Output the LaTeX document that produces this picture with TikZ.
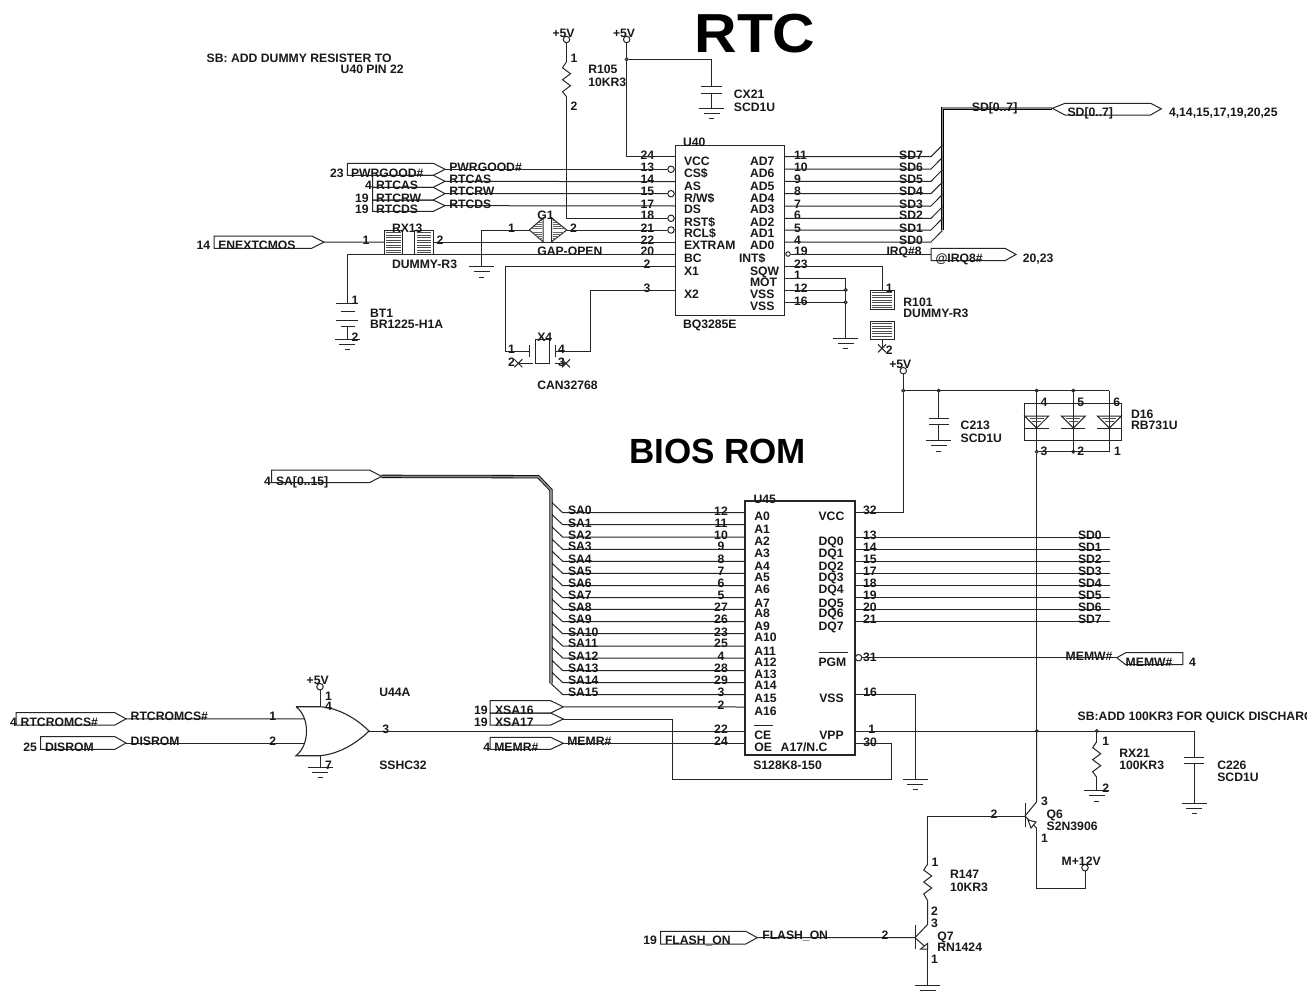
\documentclass[tikz,border=0pt]{standalone}
\usepackage{fontspec}
\usepackage{graphicx}
\setmainfont{Liberation Sans}
\newcounter{tn}
\tikzset{
  wire/.style={line width=1pt,draw=black!85},
  bus/.style={line width=.8pt,draw=black,double=black!45,double distance=1.7pt},
  lbl/.style={inner sep=0pt,outer sep=0pt,font=\bfseries\fontsize{12.2}{13}\selectfont,text=black!90,text height=8.8pt,text depth=0pt},
  ring/.style={circle,draw=black!85,line width=1pt,fill=white,inner sep=0pt,minimum size=6.5pt},
  jdot/.style={circle,draw=black!85,line width=.8pt,fill=black!60,inner sep=0pt,minimum size=3.2pt},
  chip/.style={rectangle,draw=black!85,line width=1.1pt,inner sep=0pt},
}
\newcommand{\T}[3]{\stepcounter{tn}\node[lbl,anchor=west] (t\arabic{tn}) at (#1,#2) {#3};}
\newcommand{\C}[3]{\stepcounter{tn}\node[lbl,anchor=center] (t\arabic{tn}) at (#1,#2) {#3};}
% ground: name, x, y
\newcommand{\gnd}[3]{\coordinate (#1) at (#2,#3);
  \draw[wire] ([xshift=-12.5pt]#1) -- ([xshift=12.5pt]#1);
  \draw[wire] ([xshift=-8pt,yshift=-5pt]#1) -- ([xshift=8pt,yshift=-5pt]#1);
  \draw[wire] ([xshift=-2.5pt,yshift=-10.5pt]#1) -- ([xshift=2.5pt,yshift=-10.5pt]#1);}
% vertical resistor: name top, name bottom, x, ytop, ybot
\newcommand{\res}[5]{\coordinate (#1) at (#3,#4);\coordinate (#2) at (#3,#5);
  \draw[wire] (#1) -- ([xshift=-4pt,yshift=-6pt]#1) -- ([xshift=4pt,yshift=-12pt]#1) -- ([xshift=-4pt,yshift=-18pt]#1) -- ([xshift=4pt,yshift=-24pt]#1) -- ([xshift=-4pt,yshift=-30pt]#1) -- (#2);}
% hatched box
\newcommand{\hatch}[4]{\draw[wire,fill=white] (#1,#2) rectangle (#3,#4);
  \pgfmathsetmacro{\ya}{#2+2.5}\pgfmathsetmacro{\yb}{#2+5}\pgfmathsetmacro{\yc}{#4-1.5}
  \foreach \yy in {\ya,\yb,...,\yc}{\draw[line width=1pt,draw=black!70] (#1+2,\yy) -- (#3-2,\yy);}}
% capacitor: name top, name bottom, x, y1, y2, half-width
\newcommand{\capa}[6]{\coordinate (#1) at (#3,#4);\coordinate (#2) at (#3,#5);
  \draw[wire] (#3-#6,#4) -- (#3+#6,#4);\draw[wire] (#3-#6,#5) -- (#3+#6,#5);}
% right-pointing port: tipname, xL, xS, xT, ytop, ybot
\newcommand{\port}[6]{\coordinate (#1) at (#4,{(#5+#6)/2});
  \draw[wire] (#2,#6) -- (#2,#5) -- (#3,#5) -- (#1) -- (#3,#6) -- cycle;}
\begin{document}
\begin{tikzpicture}[x=1pt,y=-1pt]
\clip (0,0) rectangle (1307,993);
\fill[white] (0,0) rectangle (1307,993);

%% ---------- titles and notes
\stepcounter{tn}\node[lbl,font=\bfseries\fontsize{55}{60}\selectfont,text height=38pt,text=black,anchor=center] (titlertc) at (755,33.5) {\scalebox{1.07}[1]{RTC}};
\stepcounter{tn}\node[lbl,font=\bfseries\fontsize{35}{37}\selectfont,text height=25pt,text=black,anchor=center] (titlebios) at (717.5,450.5) {BIOS ROM};
\T{206.7}{58.3}{SB: ADD DUMMY RESISTER TO}
\T{340.7}{69.3}{U40 PIN 22}
\T{1077.7}{716}{SB:ADD 100KR3 FOR QUICK DISCHARGE}

%% ---------- U40
\node[chip,minimum width=109pt,minimum height=170pt] (u40) at (730.2,230.4) {};
\foreach \n/\y in {24/156.7,13/169.3,14/181.7,15/193.7,17/206,18/218.3,21/230,22/242,20/254,2/266.7,3/290.7}
  {\coordinate (UL\n) at (675.7,\y);}
\foreach \n/\y in {11/156.7,10/169,9/181.3,8/193.7,7/206,6/218.3,5/230,4/242,19/254,23/266.7,1/278.3,12/290,16/302.3}
  {\coordinate (UR\n) at (784.8,\y);}
\foreach \n/\y in {13/169.3,15/193.7,18/218.3,21/230}
  {\node[ring] (BL\n) at (671,\y) {};}
\node[ring,minimum size=4.5pt] (BR19) at (788,254) {};
\foreach \n/\y in {24/155,13/167,14/179.3,15/191.3,17/204,18/215,21/228,22/240,20/251}{\T{640.7}{\y}{\n}}
\foreach \n/\y in {2/264,3/288}{\T{643.7}{\y}{\n}}
\foreach \n/\y in {11/155,10/167,9/179.3,8/191.3,7/204,6/215,5/228.3,4/240,19/251,23/264.3,1/275,12/288,16/300.7}{\T{794}{\y}{\n}}
\foreach \tx/\y in {VCC/160.7,CS\$/173.3,AS/185.7,{R/W\$}/198.3,DS/209.3,RST\$/221.7,RCL\$/233.3,EXTRAM/245.3,BC/258.3,X1/271.3,X2/294.3}{\T{684}{\y}{\tx}}
\foreach \tx/\y in {AD7/160.7,AD6/173.3,AD5/185.7,AD4/198.3,AD3/209.3,AD2/221.7,AD1/233.3,AD0/245.3,SQW/271.3,MOT/282.3,VSS/294.3,VSS/306}{\T{750}{\y}{\tx}}
\T{739}{258.3}{INT\$}
\T{683}{142.3}{U40}
\T{683}{324.3}{BQ3285E}

%% ---------- +5V and R105, CX21
\node[ring] (v5a) at (566.5,39.5) {};
\node[ring] (v5b) at (626.7,39.5) {};
\T{552.5}{32.7}{+5V}\T{613}{32.7}{+5V}
\res{r2t}{r2b}{566.5}{61.7}{96.7}
\draw[wire] (v5a) -- (r2t);
\draw[wire] (r2b) |- (BL18);
\T{570.7}{58}{1}\T{570.7}{106}{2}
\T{588.3}{69.3}{R105}\T{588.3}{82.3}{10KR3}
\draw[wire] (v5b) |- (UL24);
\node[jdot] (j1) at (626.7,59.3) {};
\capa{cx1}{cx2}{711.7}{86.7}{93.3}{10.5}
\draw[wire] (j1) -| (cx1);
\gnd{gcx}{711.7}{108.3}
\draw[wire] (cx2) -- (gcx);
\T{733.9}{94}{CX21}\T{733.9}{107.3}{SCD1U}

%% ---------- Left ports of U40
\port{pg}{347.3}{433.3}{445}{163.3}{175.3}
\port{ra}{372.7}{433.3}{445}{175.3}{187.3}
\port{rw}{372.7}{433.3}{445}{187.3}{200}
\port{rd}{372.7}{433.3}{445}{200}{211.3}
\draw[wire] (pg) -- (BL13);
\draw[wire] (ra) -- (UL14);
\draw[wire] (rw) -- (BL15);
\draw[wire] (rd) -- (UL17);
\T{351}{173.3}{PWRGOOD\#}\T{330}{173.3}{23}
\T{376}{185}{RTCAS}\T{365}{185}{4}
\T{376}{197.7}{RTCRW}\T{355}{198}{19}
\T{376}{209}{RTCDS}\T{355}{209}{19}
\T{449.3}{167}{PWRGOOD\#}\T{449.3}{179}{RTCAS}\T{449.3}{191}{RTCRW}\T{449.3}{204}{RTCDS}

%% ---------- ENEXTCMOS, RX13
\port{en}{214}{311.7}{324}{236}{248.3}
\T{218.3}{245.3}{ENEXTCMOS}\T{196.7}{245.3}{14}
\coordinate (rxa) at (384,242);\coordinate (rxb) at (433.3,242);
\draw[wire] (en) -- (rxa);
\draw[wire] (rxb) -- (UL22);
\hatch{384}{230}{402.7}{254}
\hatch{414.7}{230}{433.3}{254}
\T{362.7}{240}{1}\T{436.7}{240}{2}
\T{392}{228.3}{RX13}\T{392}{264.3}{DUMMY-R3}

%% ---------- BT1
\capa{bt1}{bt2}{347.3}{303.3}{320}{11}
\draw[wire] (341,311) -- (355,311);
\draw[wire] (341,326.7) -- (355,326.7);
\coordinate (bt3) at (347.3,326.7);
\gnd{gbt}{347.3}{339.3}
\draw[wire] (UL20) -| (bt1);
\draw[wire] (bt3) -- (gbt);
\T{351.7}{300}{1}\T{351.7}{336.7}{2}
\T{370}{313.3}{BT1}\T{370}{324.3}{BR1225-H1A}

%% ---------- G1
\gnd{gg1}{481.7}{266.7}
\coordinate (g1a) at (529.3,230);\coordinate (g1b) at (566.7,230);
\draw[wire] (gg1) |- (g1a);
\draw[wire] (g1b) -- (BL21);
\draw[wire] (g1a) -- (543,218) -- (543,241.7) -- cycle;
\draw[wire] (g1b) -- (551.7,218) -- (551.7,241.7) -- cycle;
\foreach \d in {2,4,6,8,10}{
  \draw[line width=.8pt,draw=black!60] ({543-1.1*(12-\d)},{230-\d+0}) -- (542,{230-\d});
  \draw[line width=.8pt,draw=black!60] ({543-1.1*(12-\d)},{230+\d}) -- (542,{230+\d});
  \draw[line width=.8pt,draw=black!60] (552.7,{230-\d}) -- ({551.7+1.2*(12-\d)},{230-\d});
  \draw[line width=.8pt,draw=black!60] (552.7,{230+\d}) -- ({551.7+1.2*(12-\d)},{230+\d});}
\T{508}{228}{1}\T{570}{228}{2}
\T{537.3}{215}{G1}\T{537.3}{251}{GAP-OPEN}

%% ---------- X4
\coordinate (x4a) at (529.3,351.3);\coordinate (x4b) at (555,351.3);
\coordinate (x4c) at (518.3,363.3);\coordinate (x4d) at (566,363.3);
\draw[wire] (UL2) -| (505,351.3) -- (x4a);
\draw[wire] (x4b) -| (590.7,290.7) -- (UL3);
\draw[wire] (529.3,345) -- (529.3,356.7);
\draw[wire] (555,345) -- (555,356.7);
\draw[wire] (535,339.3) rectangle (549.3,363.3);
\draw[wire] (x4c) -- (532.7,363.3);
\draw[wire] (555,363.3) -- (x4d);
\foreach \c in {x4c,x4d}{
  \draw[wire] ([xshift=-4pt,yshift=-4pt]\c) -- ([xshift=4pt,yshift=4pt]\c);
  \draw[wire] ([xshift=-4pt,yshift=4pt]\c) -- ([xshift=4pt,yshift=-4pt]\c);}
\T{508}{349}{1}\T{508}{361.7}{2}\T{558}{349}{4}\T{558}{361.7}{3}
\T{537.3}{337.3}{X4}\T{537.3}{385}{CAN32768}

%% ---------- SD bus of U40
\coordinate (sdb1) at (942.4,230);\coordinate (sdb2) at (942.4,108.3);\coordinate (sdb3) at (1052.3,108.3);
\draw[bus] (sdb1) -- (sdb2) -- (sdb3);
\foreach \n/\tx/\y/\ly in {11/SD7/156.7/155,10/SD6/169/167,9/SD5/181.3/179.3,8/SD4/193.7/191.3,7/SD3/206/204,6/SD2/218.3/215,5/SD1/230/228.3,4/SD0/242/240}{
  \draw[wire] (UR\n) -- (931,\y) -- (942.4,\y-11.5);
  \T{899.2}{\ly}{\tx}}
\T{971.9}{106.7}{SD[0..7]}
\draw[wire] (sdb3) -- (1065,103.3) -- (1150.6,103.3) -- (1161.3,108.8) -- (1150.6,115) -- (1065,115) -- cycle;
\T{1067.6}{112.3}{SD[0..7]}
\T{1169}{112.3}{4,14,15,17,19,20,25}

%% ---------- IRQ
\port{irq}{931}{1005}{1016}{248.3}{260.7}
\draw[wire] (BR19) -- (931,254);
\T{886.5}{251}{IRQ\#8}\T{935.5}{258.3}{@IRQ8\#}\T{1022.8}{258.3}{20,23}

%% ---------- R101
\hatch{870}{290}{894}{309.3}
\hatch{870}{321}{894}{339.3}
\coordinate (r1t) at (882,290);\coordinate (r1b) at (882,339.3);\coordinate (r1x) at (882,348.3);
\draw[wire] (UR23) -| (r1t);
\draw[wire] (r1b) -- (r1x);
\draw[wire] ([xshift=-4pt,yshift=-4pt]r1x) -- ([xshift=4pt,yshift=4pt]r1x);
\draw[wire] ([xshift=-4pt,yshift=4pt]r1x) -- ([xshift=4pt,yshift=-4pt]r1x);
\T{885.8}{288}{1}\T{885.8}{350}{2}
\T{903.4}{301.7}{R101}\T{903.4}{313.3}{DUMMY-R3}

%% ---------- VSS
\gnd{gv}{845.6}{338.3}
\draw[wire] (UR1) -| (gv);
\node[jdot] (j2) at (845.6,290) {};
\node[jdot] (j3) at (845.6,302.3) {};
\draw[wire] (UR12) -- (j2);
\draw[wire] (UR16) -- (j3);

%% ---------- +5V, C213, D16
\node[ring] (v5c) at (903.3,370.7) {};
\T{889.3}{364.3}{+5V}
\node[jdot] (j4) at (903.3,390.7) {};
\node[jdot] (j5) at (938.7,390.7) {};
\node[jdot] (j6) at (1036.7,390.7) {};
\node[jdot] (j7) at (1073.3,390.7) {};
\coordinate (d3t) at (1109.3,390.7);
\draw[wire] (v5c) -- (j4);
\draw[wire] (j4) -- (d3t);
\capa{c21}{c22}{938.7}{418.3}{424.3}{10}
\draw[wire] (j5) -- (c21);
\gnd{gc2}{938.7}{440.7}
\draw[wire] (c22) -- (gc2);
\T{960.7}{425}{C213}\T{960.7}{438.3}{SCD1U}
\draw[line width=1pt,draw=black!85] (1024.3,403.3) rectangle (1121.7,440);
\node[jdot] (j8) at (1036.7,451.7) {};
\node[jdot] (j9) at (1073.3,451.7) {};
\coordinate (d3b) at (1109.3,451.7);
\draw[wire] (j6) -- (j8);
\draw[wire] (j7) -- (j9);
\draw[wire] (d3t) -- (d3b) -- (j8);
\foreach \xx in {1036.7,1073.3,1109.3}{
  \draw[wire] (\xx-12,416) -- (\xx+12,416) -- (\xx,428) -- cycle;
  \draw[wire] (\xx-12,428) -- (\xx+12,428);
  \draw[line width=.8pt,draw=black!70] (\xx-7,418.5) -- (\xx+7,418.5);
  \draw[line width=.8pt,draw=black!70] (\xx-4.5,421) -- (\xx+4.5,421);}
\T{1040.7}{401.7}{4}\T{1077.3}{401.7}{5}\T{1113.3}{401.7}{6}
\T{1040.7}{450.7}{3}\T{1077.3}{450.7}{2}\T{1114}{450.7}{1}
\T{1131}{414.3}{D16}\T{1131}{425}{RB731U}

%% ---------- U45
\node[chip,minimum width=110pt,minimum height=254pt] (u45) at (800,628) {};
\coordinate (UV) at (855,512.7);
\draw[wire] (j4) |- (UV);
\T{863}{510.3}{32}
\foreach \n/\y/\ly/\tx/\ty in {
  12/512.7/510.7/A0/516.3, 11/524.7/522.7/A1/528.7, 10/537/535/A2/540.7, 9/549.3/546/A3/553.3,
  8/561.3/559/A4/565.7, 7/573.3/571/A5/577.3, 6/585.7/583/A6/589.3, 5/597.7/595/A7/602.7,
  27/609.3/607.3/A8/613.3, 26/621.7/619/A9/626.3, 23/633.7/632.3/A10/637, 25/646/643/A11/650.7,
  4/658/656/A12/662.3, 28/670.5/668.3/A13/674.3, 29/682.5/680/A14/685.3, 3/694.5/692.3/A15/698.3}{
  \coordinate (AL\n) at (745,\y);
  \coordinate (AE\n) at (562.7,\y);
  \draw[wire] (551,\y-11) -- (AE\n) -- (AL\n);
  \C{721}{\ly}{\n}
  \T{754.3}{\ty}{\tx}
}
\foreach \y [count=\i from 0] in {510,523.3,535,546,559,570.7,583,595,607,619.3,632.3,643.3,655.7,668,680,692.3}{
  \T{568}{\y}{SA\i}}
\T{754.3}{710.7}{A16}
\T{754.3}{735}{CE}
\T{754.3}{747.3}{OE}
\T{780.7}{747.3}{A17/N.C}
\draw[wire] (754,725.7) -- (773,725.7);
\T{753.6}{499.3}{U45}
\T{753.3}{765.3}{S128K8-150}
\T{818.6}{516.3}{VCC}
\foreach \tx/\y in {DQ0/540.7,DQ1/553.3,DQ2/565.7,DQ3/577.3,DQ4/589.3,DQ5/602.7,DQ6/613.3,DQ7/626.3}{\T{818.6}{\y}{\tx}}
\draw[wire] (818.6,652.7) -- (848,652.7);
\T{818.6}{662.3}{PGM}
\T{819.3}{698.3}{VSS}
\T{819.3}{735}{VPP}
\foreach \n/\tx/\y/\ly in {13/SD0/537.3/535,14/SD1/549.3/546.7,15/SD2/561.3/559,17/SD3/573.3/571,18/SD4/585.7/583.3,19/SD5/597.7/595.3,20/SD6/609.3/607.3,21/SD7/621.3/619.3}{
  \coordinate (DQ\n) at (855,\y);\coordinate (DE\n) at (1109.6,\y);
  \draw[wire] (DQ\n) -- (DE\n);
  \T{863}{\ly}{\n}
  \T{1078}{\ly}{\tx}}

%% ---------- SA bus
\port{sa}{271.7}{369.3}{381.7}{470}{482.7}
\coordinate (sab) at (551,683.3);
\draw[bus] (sa) -- (538.3,476.7) -- (551,490) -- (sab);
\T{276}{480.7}{SA[0..15]}\T{264}{480.7}{4}

%% ---------- MEMW
\node[ring] (bpgm) at (858.6,657.7) {};
\coordinate (mw) at (1116.8,657.7);
\draw[wire] (bpgm) -- (mw);
\draw[wire] (mw) -- (1125.7,652.7) -- (1182.9,652.7) -- (1182.9,664.7) -- (1125.7,664.7) -- cycle;
\T{863}{656.7}{31}
\T{1065.7}{655.7}{MEMW\#}\T{1125.7}{662.3}{MEMW\#}\T{1189}{662.3}{4}

%% ---------- U45 VSS
\coordinate (uvss) at (855,694.3);
\gnd{gvs}{915}{779}
\draw[wire] (uvss) -| (gvs);
\T{863.3}{692.3}{16}

%% ---------- XSA, MEMR
\port{x16}{490}{550.7}{563.3}{700.7}{713}
\port{x17}{490}{550.7}{563.3}{713}{725}
\port{mr}{490}{550.7}{563.3}{737.3}{749.3}
\coordinate (a16) at (745,707);
\coordinate (oe) at (745,743.3);
\coordinate (u30) at (855,743.3);
\draw[wire] (x16) -- (a16);
\draw[wire] (mr) -- (oe);
\draw[wire] (u30) -| (891,779) -| (672.7,719) -- (x17);
\C{721}{705}{2}\C{721}{729.3}{22}\C{721}{741.3}{24}
\T{863.3}{741.7}{30}
\T{495}{710}{XSA16}\T{474}{710}{19}
\T{495}{722}{XSA17}\T{474}{722}{19}
\T{494.3}{747}{MEMR\#}\T{483.3}{747}{4}
\T{567.3}{741.3}{MEMR\#}

%% ---------- U44A
\coordinate (gin1) at (305,718.85);\coordinate (gin2) at (305,743);
\coordinate (gout) at (369,731);
\coordinate (gtop) at (320,706.7);\coordinate (gbot) at (320,755.7);
\draw[wire,line width=1.1pt] (296,706.7) -- (gtop) .. controls (340,708) and (358,720) .. (gout) .. controls (358,742) and (340,754) .. (gbot) -- (296,755.7) .. controls (310,745) and (310,717) .. (296,706.7);
\port{rc}{16}{115}{126}{712.7}{725}
\port{dr}{40.7}{115}{126}{736.7}{749.3}
\draw[wire] (rc) -- (gin1);
\draw[wire] (dr) -- (gin2);
\node[ring] (v5d) at (320,686.7) {};
\draw[wire] (v5d) -- (gtop);
\gnd{gu44}{320}{767.3}
\draw[wire] (gbot) -- (gu44);
\coordinate (ce) at (745,731);
\draw[wire] (gout) -- (ce);
\T{20.7}{722.3}{RTCROMCS\#}\T{10}{722.3}{4}
\T{45}{747}{DISROM}\T{23.3}{747}{25}
\T{130.7}{716}{RTCROMCS\#}\T{269.3}{716}{1}
\T{130.7}{741.3}{DISROM}\T{269.3}{741}{2}
\T{306.7}{680}{+5V}\T{325}{696}{1}\T{325}{705.7}{4}\T{325}{765}{7}\T{382.3}{729.3}{3}
\T{379.3}{692.3}{U44A}\T{379.3}{765}{SSHC32}

%% ---------- VPP, RX21, C226
\coordinate (vpp) at (855,731);
\node[jdot] (j10) at (1036.7,731) {};
\node[jdot] (j11) at (1096.7,731) {};
\coordinate (c6t) at (1194.3,731);
\draw[wire] (vpp) -- (c6t);
\T{868.3}{729}{1}
\draw[wire] (j8) -- (j10);
\res{rxt}{rxb2}{1096.7}{741.7}{777.3}
\draw[wire] (j11) -- (rxt);
\gnd{grx}{1096.7}{790.7}
\draw[wire] (rxb2) -- (grx);
\T{1102.3}{741}{1}\T{1102.3}{788.3}{2}
\T{1119.3}{753.3}{RX21}\T{1119.3}{765.3}{100KR3}
\capa{c61}{c62}{1194.3}{757.3}{763.3}{10}
\draw[wire] (c6t) -- (c61);
\gnd{gc6}{1194.3}{803.3}
\draw[wire] (c62) -- (gc6);
\T{1217.3}{765.3}{C226}\T{1217.3}{777.3}{SCD1U}

%% ---------- Q6
\coordinate (q6c) at (1036.7,801.7);\coordinate (q6e) at (1036.7,828.3);\coordinate (q6b) at (1025,816);
\coordinate (q6w) at (927.7,816);
\draw[wire] (j10) -- (q6c) -- (q6b) -- (q6e);
\draw[wire] (1025,803) -- (1025,827.3);
\draw[wire,fill=white] (1028,820) -- (1036,822) -- (1031,828) -- cycle;
\node[ring] (m12) at (1085,867.7) {};
\draw[wire] (q6e) |- (1085,888.3) -- (m12);
\T{1041}{801}{3}\T{1046.7}{814.3}{Q6}\T{1046.7}{826.3}{S2N3906}\T{1041}{838.3}{1}
\T{990.7}{814.3}{2}\T{1061.7}{861.3}{M+12V}

%% ---------- R147, Q7
\res{r4t}{r4b}{927.7}{864}{900.7}
\draw[wire] (q6b) -- (q6w) -- (r4t);
\coordinate (q7c) at (927.7,924.3);\coordinate (q7b) at (915,937.7);\coordinate (q7e) at (927.7,949);
\draw[wire] (r4b) -- (q7c) -- (q7b) -- (q7e);
\draw[wire] (915,925) -- (915,949);
\draw[wire,fill=white] (927.7,943.3) -- (927.7,949) -- (920.7,949) -- cycle;
\gnd{gq7}{927.7}{985}
\draw[wire] (q7e) -- (gq7);
\port{fl}{660.7}{745.7}{757.3}{931.3}{944}
\draw[wire] (fl) -- (q7b);
\T{665}{940}{FLASH\_ON}\T{643.3}{940}{19}\T{762.3}{935}{FLASH\_ON}\T{881.7}{935}{2}
\T{931.7}{861.7}{1}\T{950}{874.3}{R147}\T{950}{887.3}{10KR3}
\T{931}{911}{2}\T{931}{922.7}{3}\T{937.3}{935.7}{Q7}\T{937.3}{947.3}{RN1424}\T{931}{959.3}{1}
\end{tikzpicture}
\end{document}
